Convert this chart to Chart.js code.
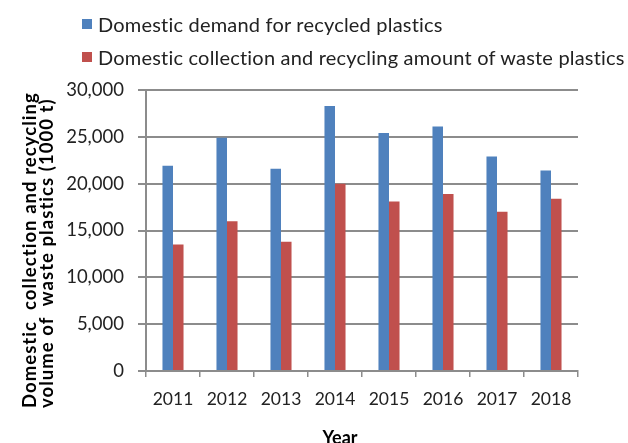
<!DOCTYPE html>
<html>
<head>
<meta charset="utf-8">
<script src="https://cdn.jsdelivr.net/npm/chart.js@4.4.1/dist/chart.umd.min.js"></script>
<style>
    body { margin: 0; background: #fff; }
    #wrap { position: relative; width: 628px; height: 443px; overflow: hidden; }
    #chart { position: absolute; left: 0; top: 0; }
    #legend { position: absolute; left: 82px; top: 7px; font: 20px Lato, sans-serif; letter-spacing: 0.2px; color: #222; white-space: nowrap; }
    .item { display: flex; align-items: center; height: 33px; }
    .box { width: 10px; height: 10px; margin-right: 6px; }
    #ytitle {
        position: absolute; left: 21px; top: 408px; width: 340px;
        transform-origin: 0 0; transform: rotate(-90deg);
        font: bold 18.5px Lato, sans-serif; letter-spacing: 1.05px; line-height: 17px; color: #000;
        white-space: pre;
    }
    #xtitle {
        position: absolute; left: 300px; top: 426px; width: 80px; text-align: center;
        font: bold 18px Lato, sans-serif; line-height: 22px; color: #000;
    }
</style>
</head>
<body>
<div id="wrap">
    <canvas id="chart" width="628" height="443"></canvas>
    <div id="legend"></div>
    <div id="ytitle">Domestic  collection and recycling
volume of  waste plastics (1000 t)</div>
    <div id="xtitle">Year</div>
</div>
<script>
const years = ['2011', '2012', '2013', '2014', '2015', '2016', '2017', '2018'];
const demand = [21900, 24900, 21600, 28300, 25400, 26100, 22900, 21400];
const collection = [13500, 16000, 13800, 20000, 18100, 18900, 17000, 18400];
const seriesNames = ['Domestic demand for recycled plastics', 'Domestic collection and recycling amount of waste plastics'];
const seriesColors = ['#4F81BD', '#C0504D'];

const gridColor = '#8c8c8c';
const textColor = '#222';

let ctx = document.getElementById('chart');
ctx.style.width = '628px';
ctx.style.height = '443px';

let chart = new Chart(ctx, {
    type: 'bar',
    data: {
        labels: years,
        datasets: [{
            label: seriesNames[0],
            data: demand,
            backgroundColor: seriesColors[0]
        }, {
            label: seriesNames[1],
            data: collection,
            backgroundColor: seriesColors[1]
        }]
    },
    options: {
        responsive: false,
        animation: false,
        categoryPercentage: 0.39,
        barPercentage: 1.0,
        layout: { padding: { left: 0, right: 50, top: 90, bottom: 0 } },
        plugins: {
            legend: { display: false },
            tooltip: { enabled: false }
        },
        scales: {
            x: {
                grid: { offset: true, drawOnChartArea: false, color: gridColor, lineWidth: 1.5, tickLength: 6 },
                border: { color: gridColor, width: 2 },
                ticks: { color: textColor, font: { family: 'Lato', size: 17.5 }, padding: 12 },
                afterFit: scale => { scale.height = 72; }
            },
            y: {
                min: 0, max: 30000,
                grid: { color: gridColor, lineWidth: 2, tickLength: 8 },
                border: { color: gridColor, width: 2 },
                ticks: {
                    stepSize: 5000, color: textColor, padding: 14,
                    font: { family: 'Lato', size: 18.5 },
                    callback: v => v.toLocaleString('en-US')
                },
                afterFit: scale => { scale.width = 146; }
            }
        }
    }
});

// legend built from the datasets
let legend = document.getElementById('legend');
chart.data.datasets.forEach(ds => {
    let item = document.createElement('div');
    item.className = 'item';
    let box = document.createElement('span');
    box.className = 'box';
    box.style.background = ds.backgroundColor;
    let label = document.createElement('span');
    label.textContent = ds.label;
    item.appendChild(box);
    item.appendChild(label);
    legend.appendChild(item);
});
</script>
</body>
</html>
